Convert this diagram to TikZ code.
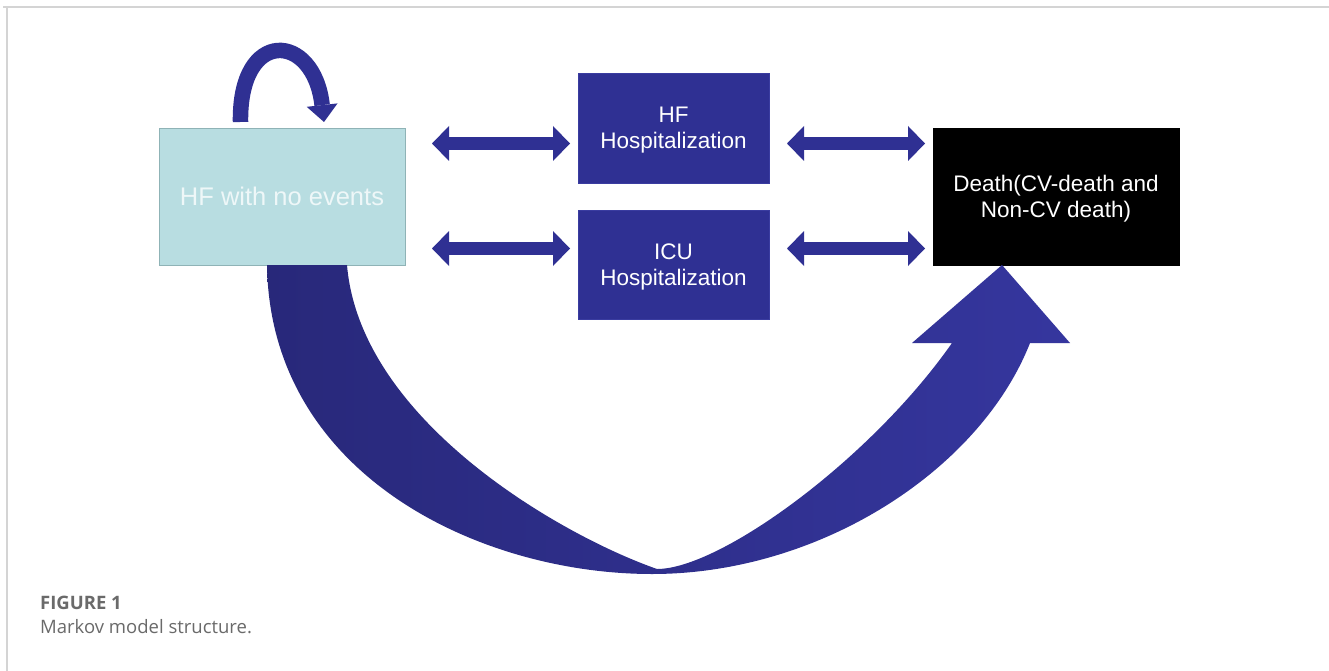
\documentclass[tikz,border=0pt]{standalone}
\usepackage{fontspec}
\setmainfont{Liberation Sans}
\newfontfamily\capfont{Open Sans}
\usetikzlibrary{arrows.meta,calc}
\definecolor{navy}{HTML}{2F3093}
\definecolor{navyedge}{HTML}{3A3CA0}
\definecolor{arrdark}{HTML}{28287A}
\definecolor{arrlight}{HTML}{35369E}
\definecolor{paleblue}{HTML}{B8DDE1}
\definecolor{paleedge}{HTML}{8FB3B6}
\definecolor{paletext}{HTML}{EEF7F8}
\definecolor{framegray}{HTML}{D4D4D4}
\definecolor{capgray}{HTML}{6A6A6A}
\tikzset{
  statebox/.style={draw=navyedge, fill=navy, text=white, line width=0.8pt,
    minimum width=191pt, minimum height=110pt, inner sep=0pt, align=center,
    text depth=0pt, font=\fontsize{22.5}{26}\selectfont},
  bigbox/.style={minimum width=246pt, minimum height=137pt, inner sep=0pt, align=center,
    line width=0.8pt},
  dblarrow/.style={navy, line width=13pt,
    {Triangle[length=17pt,width=35pt,line width=0pt]}-{Triangle[length=17pt,width=35pt,line width=0pt]}},
}
\begin{document}
\begin{tikzpicture}[x=1pt,y=-1pt]
\useasboundingbox (0,0) rectangle (1329,671);
\fill[white] (0,0) rectangle (1329,671);
% frame
\draw[framegray, line width=1.5pt] (3,7) -- (1329,7);
\draw[framegray, line width=1.5pt] (7,7) -- (7,671);

% nodes
\node[bigbox, draw=paleedge, fill=paleblue, text=paletext,
      font=\fontsize{25.5}{29}\selectfont] (hf) at (282,196.5) {HF with no events};
\node[statebox] (hosp) at (673.5,128) {HF\\Hospitalization};
\node[statebox, minimum height=109pt] (icu) at (673.5,264.5) {ICU\\Hospitalization};
\node[bigbox, draw=black, fill=black, text=white, text depth=0pt,
      font=\fontsize{22.5}{26.5}\selectfont] (death) at (1056,196.5) {Death(CV-death and\\Non-CV death)};

% double arrow end points
\coordinate (a1l) at (432,143.5);
\coordinate (a1r) at (570,143.5);
\coordinate (a2l) at (432,248.5);
\coordinate (a2r) at (570,248.5);
\coordinate (b1l) at (787,143.5);
\coordinate (b1r) at (925,143.5);
\coordinate (b2l) at (787,248.5);
\coordinate (b2r) at (925,248.5);
\draw[dblarrow] (a1l) -- (a1r);
\draw[dblarrow] (a2l) -- (a2r);
\draw[dblarrow] (b1l) -- (b1r);
\draw[dblarrow] (b2l) -- (b2r);

% self loop
\coordinate (loopstart) at (240.5,122);
\coordinate (loopend) at (324,122);
\draw[navy, line width=15.5pt, -{Triangle[length=17pt,width=31pt,line width=0pt]}]
  (loopstart) .. controls (239,27) and (314,32) .. (loopend);

% big curved arrow
\shade[left color=arrdark, right color=arrlight]
  (267,265) .. controls (270,475) and (480,574) .. (652,574)
  .. controls (820,574) and (980,470) .. (1030,343)
  -- (1070,343) -- (1002,265) -- (912,343) -- (952,343)
  .. controls (870,460) and (720,569) .. (657,569)
  .. controls (560,535) and (360,420) .. (347,265) -- cycle;

% caption
\node[anchor=base west, inner sep=0pt, text=capgray, font=\capfont\bfseries\fontsize{18.5}{22}\selectfont] (figlabel) at (40,609) {FIGURE 1};
\node[anchor=base west, inner sep=0pt, text=capgray, font=\capfont\fontsize{18.5}{22}\selectfont] (figcap) at (40,633) {Markov model structure.};
\end{tikzpicture}
\end{document}
